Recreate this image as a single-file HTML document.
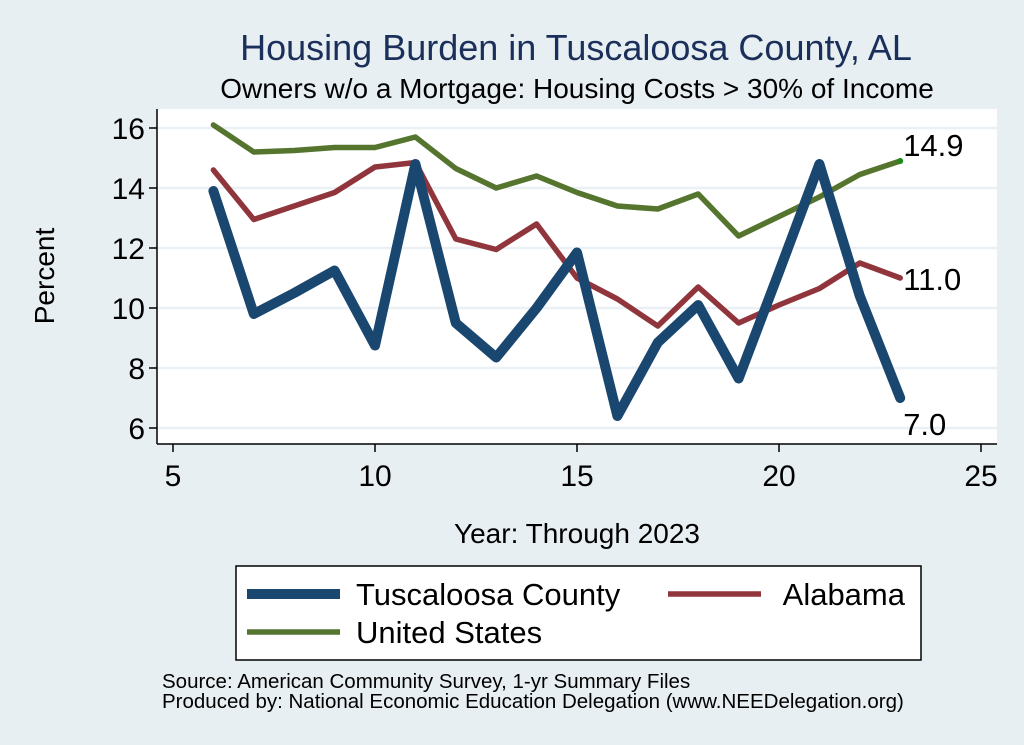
<!DOCTYPE html>
<html><head><meta charset="utf-8"><style>
body{margin:0;background:#e8eff2;}
svg{display:block;font-family:"Liberation Sans",sans-serif;}
</style></head><body>
<svg id="chart" width="1024" height="745" viewBox="0 0 1024 745">
<rect x="0" y="0" width="1024" height="745" fill="#e8eff2"/>
<text x="576" y="60" text-anchor="middle" font-size="36" fill="#1a2f5a">Housing Burden in Tuscaloosa County, AL</text>
<text x="577" y="98" text-anchor="middle" font-size="28" fill="#000">Owners w/o a Mortgage: Housing Costs &gt; 30% of Income</text>
<rect x="157" y="109" width="840" height="335" fill="#fff"/>
<g id="grid"></g>
<g id="series"></g>
<line x1="157" y1="109" x2="157" y2="444" stroke="#000" stroke-width="1.5"/>
<line x1="157" y1="444" x2="997" y2="444" stroke="#000" stroke-width="1.5"/>
<g id="axes"></g>
<text x="54" y="276" text-anchor="middle" font-size="28" transform="rotate(-90 54 276)">Percent</text>
<text x="577" y="543" text-anchor="middle" font-size="28">Year: Through 2023</text>
<g>
<rect x="236" y="566" width="685" height="94" fill="#fff" stroke="#000" stroke-width="1.5"/>
<line x1="247" y1="594" x2="340" y2="594" stroke="#1a476f" stroke-width="10"/>
<text x="356" y="605" font-size="31">Tuscaloosa County</text>
<line x1="668" y1="594" x2="761" y2="594" stroke="#90353b" stroke-width="5.5"/>
<text x="905" y="605" text-anchor="end" font-size="31">Alabama</text>
<line x1="247" y1="632" x2="340" y2="632" stroke="#55752f" stroke-width="5.5"/>
<text x="356" y="643" font-size="31">United States</text>
</g>
<text x="162" y="688" font-size="20.5">Source: American Community Survey, 1-yr Summary Files</text>
<text x="162" y="708" font-size="20.5">Produced by: National Economic Education Delegation (www.NEEDelegation.org)</text>
</svg>
<script>
const years = [6,7,8,9,10,11,12,13,14,15,16,17,18,19,20,21,22,23];
const tuscaloosa = [13.9,9.8,10.5,11.25,8.75,14.8,9.5,8.35,10.0,11.85,6.4,8.85,10.1,7.65,11.2,14.8,10.4,7.0];
const alabama = [14.6,12.95,13.4,13.85,14.7,14.85,12.3,11.95,12.8,11.0,10.3,9.4,10.7,9.5,10.1,10.65,11.5,11.0];
const unitedStates = [16.1,15.2,15.25,15.35,15.35,15.7,14.65,14.0,14.4,13.85,13.4,13.3,13.8,12.4,13.05,13.7,14.45,14.9];
const xTicks = [5,10,15,20,25];
const yTicks = [6,8,10,12,14,16];
const ns = "http://www.w3.org/2000/svg";
const X = v => 173 + (v-5)*40.4;
const Y = v => 428 - (v-6)*30;
function mk(tag, attrs, parent){const e=document.createElementNS(ns,tag);for(const k in attrs)e.setAttribute(k,attrs[k]);parent.appendChild(e);return e;}
const grid=document.getElementById('grid'), axes=document.getElementById('axes'), ser=document.getElementById('series');
yTicks.forEach(t=>{
  const g=mk('line',{x1:157,x2:997,y1:Y(t),y2:Y(t),stroke:'#eaf0f3','stroke-width':2.5},grid);
  
  
  const tk=mk('line',{x1:149,x2:157,y1:Y(t),y2:Y(t),stroke:'#000','stroke-width':1.5},axes);
  
  
  const tx=mk('text',{x:145,y:Y(t)+11,'text-anchor':'end','font-size':30},axes);
  tx.textContent=t;
  
  
});
xTicks.forEach(t=>{
  const tk=mk('line',{x1:X(t),x2:X(t),y1:444,y2:452,stroke:'#000','stroke-width':1.5},axes);
  
  
  const tx=mk('text',{x:X(t),y:486,'text-anchor':'middle','font-size':30},axes);
  tx.textContent=t;
  
  
});
function line(vals,color,w,name){
  const p=mk('polyline',{points:years.map((y,i)=>X(y)+','+Y(vals[i])).join(' '),fill:'none',stroke:color,'stroke-width':w,'stroke-linejoin':'round','stroke-linecap':'round'},ser);
  
  
}
line(unitedStates,'#55752f',5.5,'line-united-states');
line(alabama,'#90353b',5.5,'line-alabama');
line(tuscaloosa,'#1a476f',10,'line-tuscaloosa');
const last=years.length-1;
const dot=mk('circle',{cx:X(years[last]),cy:Y(unitedStates[last]),r:3,fill:'#1a8a1a'},ser);


function lab(v,dy,name){
  const t=mk('text',{x:X(years[last])+3,y:Y(v)+dy,'font-size':31},ser);
  t.textContent=v.toFixed(1);
  
  
}
lab(unitedStates[last],-5,'label-us-last');
lab(alabama[last],12,'label-alabama-last');
lab(tuscaloosa[last],37,'label-tuscaloosa-last');
</script>
</body></html>
